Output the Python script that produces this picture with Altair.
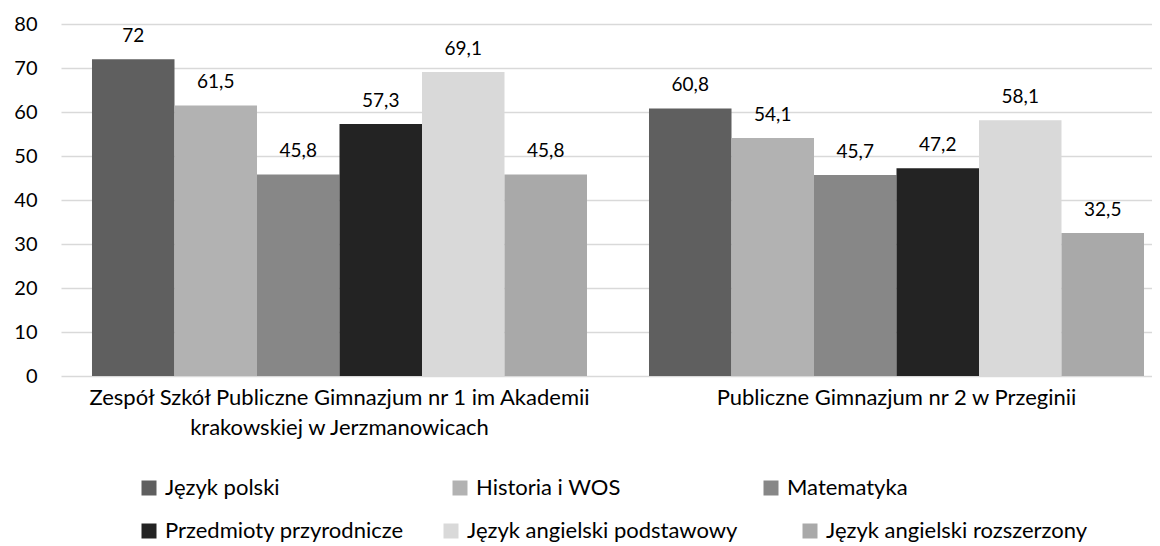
import altair as alt
import pandas as pd

# ---- data ----
schools = [
    "Zespół Szkół Publiczne Gimnazjum nr 1 im Akademii krakowskiej w Jerzmanowicach",
    "Publiczne Gimnazjum nr 2 w Przeginii",
]
school_label_lines = [
    ["Zespół Szkół Publiczne Gimnazjum nr 1 im Akademii", "krakowskiej w Jerzmanowicach"],
    ["Publiczne Gimnazjum nr 2 w Przeginii"],
]
subjects = [
    "Język polski",
    "Historia i WOS",
    "Matematyka",
    "Przedmioty przyrodnicze",
    "Język angielski podstawowy",
    "Język angielski rozszerzony",
]
colors = ["#5f5f5f", "#b2b2b2", "#878787", "#232323", "#d9d9d9", "#a9a9a9"]
values_school1 = [72, 61.5, 45.8, 57.3, 69.1, 45.8]
values_school2 = [60.8, 54.1, 45.7, 47.2, 58.1, 32.5]
y_ticks = [0, 10, 20, 30, 40, 50, 60, 70, 80]

FONT = "Lato"
FS_AXIS = 22
FS_Y = 20
FS_LABEL = 19

rows = []
for school, vals in zip(schools, [values_school1, values_school2]):
    for subj, v in zip(subjects, vals):
        rows.append({
            "szkola": school,
            "przedmiot": subj,
            "wynik": v,
            "etykieta": f"{v:g}".replace(".", ","),
        })
df = pd.DataFrame(rows)

# multi-line x labels
label_expr = "datum.value"
for school, lines in zip(schools, school_label_lines):
    arr = "[" + ", ".join("'" + l + "'" for l in lines) + "]"
    label_expr = f"datum.value == '{school}' ? {arr} : ({label_expr})"

x_enc = alt.X(
    "szkola:N",
    sort=schools,
    scale=alt.Scale(paddingInner=0.1113, paddingOuter=0.035, align=0.795),
    axis=alt.Axis(
        title=None, labelAngle=0, labelExpr=label_expr, labelFont=FONT,
        labelFontSize=FS_AXIS, labelColor="#000000", labelPadding=11,
        labelLineHeight=30, labelLimit=1000, domain=False, ticks=False,
    ),
)
xo_enc = alt.XOffset(
    "przedmiot:N", sort=subjects,
    scale=alt.Scale(domain=subjects, paddingInner=0, paddingOuter=0),
)
y_enc = alt.Y(
    "wynik:Q",
    scale=alt.Scale(domain=[0, 80], nice=False),
    axis=alt.Axis(
        title=None, values=y_ticks, grid=True, gridColor="#d9d9d9",
        gridWidth=1.3, domain=False, ticks=False, labelPadding=24,
        labelFont=FONT, labelFontSize=FS_Y, labelColor="#000000",
    ),
)

legend_groups = [
    dict(idx=[0, 1, 2], x=77, y=453, pad=139, align="all"),
    dict(idx=[3, 4], x=77, y=496, pad=36, align="each"),
    dict(idx=[5], x=738, y=496, pad=10, align="each"),
]

layers = []
for g in legend_groups:
    sg = [subjects[i] for i in g["idx"]]
    cg = [colors[i] for i in g["idx"]]
    layer = (
        alt.Chart(df)
        .transform_filter(alt.FieldOneOfPredicate(field="przedmiot", oneOf=sg))
        .mark_bar(strokeWidth=0)
        .encode(
            x=x_enc,
            xOffset=xo_enc,
            y=y_enc,
            color=alt.Color(
                "przedmiot:N", sort=sg,
                scale=alt.Scale(domain=sg, range=cg),
                legend=alt.Legend(
                    title=None, orient="none", legendX=g["x"], legendY=g["y"],
                    direction="horizontal", columns=len(sg),
                    columnPadding=g["pad"], gridAlign=g["align"],
                    symbolType="square", symbolSize=225, symbolStrokeWidth=0,
                    labelFont=FONT, labelFontSize=FS_AXIS, labelColor="#000000",
                    labelOffset=5, labelLimit=600, padding=0,
                ),
            ),
        )
    )
    layers.append(layer)

text = (
    alt.Chart(df)
    .mark_text(baseline="alphabetic", dy=-17, font=FONT, fontSize=FS_LABEL, color="#000000")
    .encode(x=x_enc, xOffset=xo_enc, y=y_enc, text="etykieta:N")
)

chart = (
    alt.layer(*layers, text)
    .resolve_scale(color="independent")
    .properties(
        width=1091, height=352,
        autosize=alt.AutoSizeParams(type="none"),
        padding={"left": 53, "top": 16, "right": 0, "bottom": 168},
        background="#ffffff",
    )
    .configure_view(stroke=None)
)

chart.save("out.html", embed_options={"renderer": "svg", "actions": False})
